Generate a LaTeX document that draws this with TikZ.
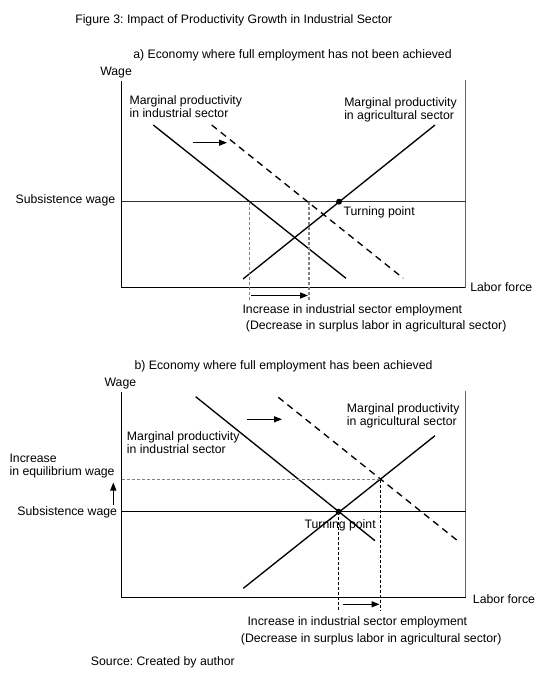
\documentclass[tikz,border=0pt]{standalone}
\usepackage{fontspec}
\setmainfont{Liberation Sans}
\usetikzlibrary{arrows.meta}
\frenchspacing
\begin{document}
\begin{tikzpicture}[x=0.75pt,y=-0.75pt,
  lbl/.style={inner sep=0pt, anchor=west, align=left, font=\fontsize{9.2}{10}\selectfont},
  lble/.style={lbl, anchor=east, align=right},
  curve/.style={line width=1pt, black},
  shifted/.style={curve, dash pattern=on 5pt off 3.75pt},
  guide/.style={line width=0.9pt, black!50, dash pattern=on 2.25pt off 1.5pt},
  guideb/.style={line width=0.75pt, black, dash pattern=on 2.25pt off 1.5pt},
  axis/.style={line width=1pt, black},
  frame/.style={line width=1pt, black!60},
  arr/.style={line width=1pt, -{Triangle[length=6pt,width=4.5pt]}},
  dot/.style={circle, fill=black, inner sep=0pt, minimum size=4.5pt},
]
\useasboundingbox (0,0) rectangle (540,679);

% ---------- titles ----------
\node[lbl] (title) at (75,20) {Figure 3: Impact of Productivity Growth in Industrial Sector};

% ================= Panel a =================
\node[lbl] (ta) at (133,55.5) {a) Economy where full employment has not been achieved};
\node[lbl] (wagea) at (100,72.7) {Wage};

\coordinate (Oa) at (121.7,287.7);
\coordinate (Ya) at (121.7,81);
\coordinate (Xa) at (465.7,287.7);
\coordinate (Fa) at (465.7,80);
\coordinate (Sa1) at (121.7,201.7);
\coordinate (Sa2) at (465.7,201.7);
\draw[axis] (Ya) -- (Oa) -- (Xa);
\draw[frame] (Fa) -- (Xa);
\draw[line width=1pt, black!80] (Sa1) -- (Sa2);

\coordinate (Ia1) at (153.3,125);
\coordinate (Ia2) at (346,278.3);
\coordinate (Da1) at (211.7,125);
\coordinate (Da2) at (403.3,278.3);
\coordinate (Aa1) at (243,279);
\coordinate (Aa2) at (435,125);
\draw[curve] (Ia1) -- (Ia2);
\draw[shifted] (Da1) -- (Da2);
\draw[curve] (Aa1) -- (Aa2);

\coordinate (Va1) at (249.3,201.7);
\coordinate (Va1b) at (249.3,300.5);
\coordinate (Va2) at (309,201.7);
\coordinate (Va2b) at (309,300.5);
\draw[guide] (Va1) -- (Va1b);
\draw[guide] (Va2) -- (Va2b);

\coordinate (ea1) at (251,295.5);
\coordinate (ea2) at (308,295.5);
\draw[arr] (ea1) -- (ea2);
\coordinate (sa1) at (192.7,142.7);
\coordinate (sa2) at (227,142.7);
\draw[arr] (sa1) -- (sa2);

\node[dot] (tpa) at (339,201.7) {};

\node[lbl] (inda) at (129.3,106.7) {Marginal productivity\\in industrial sector};
\node[lbl] (agra) at (344,110) {Marginal productivity\\in agricultural sector};
\node[lble] (suba) at (115.5,200.5) {Subsistence wage};
\node[lbl] (tpla) at (343.3,212.7) {Turning point};
\node[lbl] (lfa) at (470,287.5) {Labor force};
\node[lbl] (inca) at (242.3,310.7) {Increase in industrial sector employment};
\node[lbl] (deca) at (245.7,326.7) {(Decrease in surplus labor in agricultural sector)};

% ================= Panel b =================
\node[lbl] (tb) at (134.3,366) {b) Economy where full employment has been achieved};
\node[lbl] (wageb) at (104.3,383.3) {Wage};

\coordinate (Ob) at (121.7,597.3);
\coordinate (Yb) at (121.7,391.7);
\coordinate (Xb) at (465.7,597.3);
\coordinate (Fb) at (465.7,391);
\coordinate (Sb1) at (121.7,511.7);
\coordinate (Sb2) at (465.7,511.7);
\draw[axis] (Yb) -- (Ob) -- (Xb);
\draw[frame] (Fb) -- (Xb);
\draw[line width=1pt, black] (Sb1) -- (Sb2);

\coordinate (Ib1) at (195.7,396.7);
\coordinate (Ib2) at (375,540.7);
\coordinate (Db1) at (278.3,397.3);
\coordinate (Db2) at (456.7,540);
\coordinate (Ab1) at (243.3,588.3);
\coordinate (Ab2) at (435,435.7);
\draw[curve] (Ib1) -- (Ib2);
\draw[shifted] (Db1) -- (Db2);
\draw[curve] (Ab1) -- (Ab2);

\coordinate (Eq1) at (121.7,479.7);
\coordinate (Eq2) at (380.5,479.7);
\draw[guide] (Eq1) -- (Eq2);
\coordinate (Vb1) at (338.5,511.7);
\coordinate (Vb1b) at (338.5,610.7);
\coordinate (Vb2b) at (380.5,610.7);
\draw[guideb] (Vb1) -- (Vb1b);
\draw[guideb] (Eq2) -- (Vb2b);

\coordinate (eb1) at (342.7,604.3);
\coordinate (eb2) at (379.5,604.3);
\draw[arr] (eb1) -- (eb2);
\coordinate (sb1) at (247.3,419.3);
\coordinate (sb2) at (282,419.3);
\draw[arr] (sb1) -- (sb2);
\coordinate (ub1) at (113.3,504.5);
\coordinate (ub2) at (113.3,482.5);
\draw[arr] (ub1) -- (ub2);

\node[dot] (tpb) at (338.5,511.7) {};

\node[lbl] (indb) at (126.7,442.7) {Marginal productivity\\in industrial sector};
\node[lbl] (agrb) at (346.7,416) {Marginal productivity\\in agricultural sector};
\node[lbl] (eqw) at (9.3,465.8) {Increase\\in equilibrium wage};
\node[lble] (subb) at (117.3,512.5) {Subsistence wage};
\node[lbl] (tplb) at (304.3,525.7) {Turning point};
\node[lbl] (lfb) at (472.7,599) {Labor force};
\node[lbl] (incb) at (247.3,622.7) {Increase in industrial sector employment};
\node[lbl] (decb) at (240.7,639.3) {(Decrease in surplus labor in agricultural sector)};

\node[lbl] (src) at (90.7,662.7) {Source: Created by author};
\end{tikzpicture}
\end{document}
